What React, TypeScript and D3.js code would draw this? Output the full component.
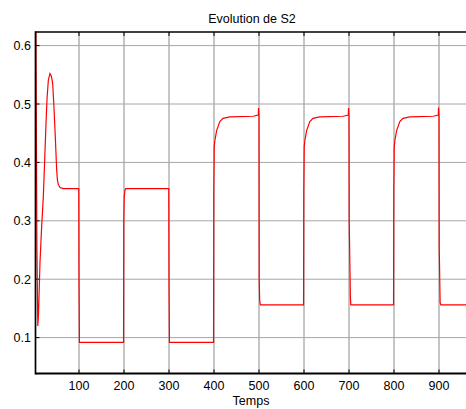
import React from "react";
import * as d3 from "d3";

const title = "Evolution de S2";
const xLabel = "Temps";
const xTicks = [100, 200, 300, 400, 500, 600, 700, 800, 900];
const yTicks = [0.1, 0.2, 0.3, 0.4, 0.5, 0.6];

// time samples and S2 values
const times = [
  3.5, 5, 6.5, 8.5, 10, 13.3, 17, 20.7, 24, 26.7, 29, 31.9, 35.5, 38.5, 41.5, 44, 46.7, 50.4, 52, 54, 57.8, 65, 99.5,
  100, 101, 199, 199.5, 200.5, 202, 204, 299.5, 300, 301, 399, 399.5, 400.5, 402, 406, 413, 420, 435, 487, 498.5,
  499, 500, 500.5, 501.5, 503, 599, 599.5, 600.5, 602, 606, 613, 620, 635, 687, 698.5, 699, 700, 700.5, 703, 704,
  799, 799.5, 800.5, 802, 806, 813, 820, 835, 887, 898.5, 899, 900, 900.5, 902.5, 904, 960,
];
const values = [
  0.75, 0.5, 0.25, 0.12, 0.14, 0.228, 0.29, 0.341, 0.41, 0.467, 0.51, 0.541, 0.552, 0.548, 0.535, 0.5, 0.455, 0.387,
  0.37, 0.362, 0.357, 0.355, 0.355, 0.2, 0.092, 0.092, 0.3, 0.341, 0.352, 0.355, 0.355, 0.2, 0.092, 0.092, 0.35,
  0.427, 0.438, 0.455, 0.47, 0.4755, 0.478, 0.479, 0.481, 0.493, 0.48, 0.2, 0.164, 0.156, 0.156, 0.35, 0.427, 0.438,
  0.455, 0.47, 0.4755, 0.478, 0.479, 0.481, 0.493, 0.48, 0.3, 0.17, 0.156, 0.156, 0.35, 0.427, 0.438, 0.455, 0.47,
  0.4755, 0.478, 0.479, 0.481, 0.494, 0.48, 0.256, 0.16, 0.156, 0.156,
];

export default function App() {
  const W = 466, H = 409;
  const left = 35.5, right = 466, top = 32, bottom = 373.5;
  const x = d3.scaleLinear().domain([0, 960]).range([34, 466]);
  const y = d3.scaleLinear().domain([0.0394, 0.6233]).range([373, 32]);
  const pts = times.map((t, i) => [t, values[i]] as [number, number]);
  const line = d3.line<[number, number]>().x((d) => x(d[0])).y((d) => y(d[1]));
  const font = "Arial, 'Liberation Sans', sans-serif";
  return (
    <svg width={W} height={H} style={{ position: "absolute", left: 0, top: 0, background: "#fff" }}>
      <defs>
        <clipPath id="plotclip">
          <rect x={left} y={top} width={right - left} height={bottom - top} />
        </clipPath>
      </defs>
      <rect x={0} y={0} width={W} height={H} fill="#fff" />
      {/* grid */}
      {xTicks.map((t) => (
        <line key={"gx" + t} x1={x(t)} x2={x(t)} y1={top} y2={bottom} stroke="#8c8c8c" strokeWidth={1} />
      ))}
      {yTicks.map((t) => (
        <line key={"gy" + t} x1={left} x2={right} y1={y(t)} y2={y(t)} stroke="#a6a6a6" strokeWidth={1} />
      ))}
      {/* ticks */}
      {xTicks.map((t) => (
        <g key={"tx" + t}>
          <line x1={x(t)} x2={x(t)} y1={top} y2={top + 4} stroke="#000" strokeWidth={1} />
          <line x1={x(t)} x2={x(t)} y1={bottom} y2={bottom - 4} stroke="#000" strokeWidth={1} />
        </g>
      ))}
      {yTicks.map((t) => (
        <line key={"ty" + t} x1={left} x2={left + 4} y1={y(t)} y2={y(t)} stroke="#000" strokeWidth={1} />
      ))}
      {/* data */}
      <path d={line(pts) || ""} fill="none" stroke="#ff0000" strokeWidth={1.2} clipPath="url(#plotclip)" />
      {/* axes */}
      <line x1={left} x2={right} y1={top} y2={top} stroke="#000" strokeWidth={1.5} />
      <line x1={left} x2={right} y1={bottom} y2={bottom} stroke="#000" strokeWidth={2} />
      <line x1={left} x2={left} y1={top - 0.75} y2={bottom + 1} stroke="#000" strokeWidth={1.7} />
      {/* labels */}
      {yTicks.map((t) => (
        <text key={"ly" + t} x={31} y={y(t) + 4.5} textAnchor="end" fontFamily={font} fontSize={12.5} fill="#000">
          {t.toFixed(1)}
        </text>
      ))}
      {xTicks.map((t) => (
        <text key={"lx" + t} x={x(t)} y={390} textAnchor="middle" fontFamily={font} fontSize={12.5} fill="#000">
          {t}
        </text>
      ))}
      <text x={251} y={405} textAnchor="middle" fontFamily={font} fontSize={12.5} fill="#000">
        {xLabel}
      </text>
      <text x={252} y={22.5} textAnchor="middle" fontFamily={font} fontSize={12.5} fill="#000">
        {title}
      </text>
    </svg>
  );
}
